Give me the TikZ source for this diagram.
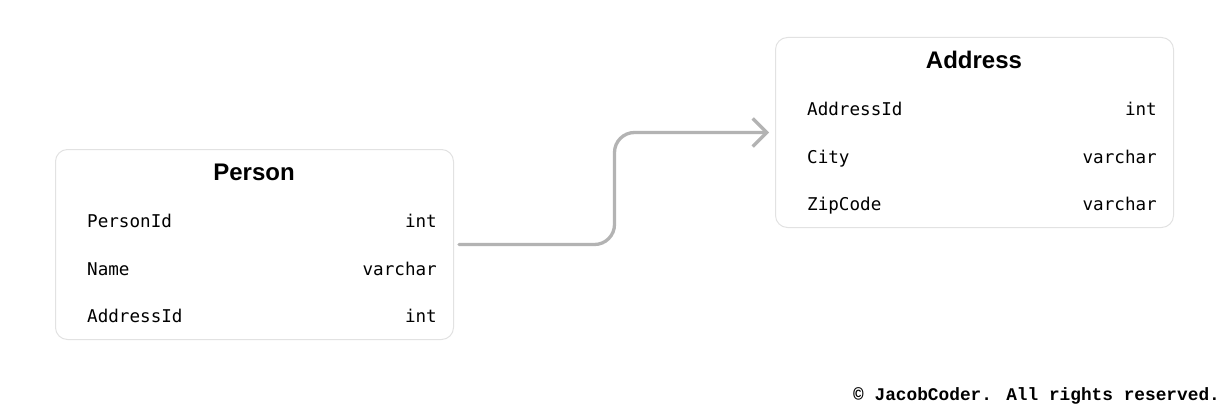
\documentclass[tikz,border=0pt]{standalone}
\usepackage{fontspec}
\usepackage{tikz}
\usetikzlibrary{arrows.meta}
\usetikzlibrary{calc}

\newfontfamily\titlefont{Liberation Sans}
\newfontfamily\fieldfont{DejaVu Sans Mono}
\newfontfamily\notefont{Liberation Mono}
\definecolor{boxline}{HTML}{E2E2E2}
\definecolor{linkline}{HTML}{B3B3B3}

\begin{document}
\begin{tikzpicture}
[
    x = 1pt, y = -1pt,
    table/.style = {draw = boxline, line width = 1pt, rounded corners = 12pt, anchor = north west,
                    minimum width = 398pt, minimum height = 190pt, inner sep = 0pt},
    title/.style = {anchor = base, inner sep = 0pt, font = \titlefont\bfseries\fontsize{24}{28}\selectfont},
    field/.style = {anchor = base west, inner sep = 0pt, font = \fieldfont\fontsize{17.6}{20}\selectfont},
    type/.style = {field, anchor = base east},
    link/.style = {draw = linkline, line width = 3.3pt, line cap = round, line join = round,
                   rounded corners = 20pt, -{Straight Barb[length = 14pt, width = 28pt]},
                   shorten < = 5pt, shorten > = 6pt}]

\useasboundingbox (0,0) rectangle (1228,412);

% Person table
\node[table] (person) at (55,149) {};
\node[title] (persontitle) at (254,180.5) {Person};
\node[field] (personid) at (87,227) {PersonId};
\node[type] (personidtype) at (437,227) {int};
\node[field] (personname) at (87,275) {Name};
\node[type] (personnametype) at (437,275) {varchar};
\node[field] (personaddr) at (87,322.5) {AddressId};
\node[type] (personaddrtype) at (437,322.5) {int};

% Address table
\node[table] (address) at (775,37) {};
\node[title] (addresstitle) at (974,68) {Address};
\node[field] (addressid) at (807,115.5) {AddressId};
\node[type] (addressidtype) at (1157,115.5) {int};
\node[field] (addresscity) at (807,163) {City};
\node[type] (addresscitytype) at (1157,163) {varchar};
\node[field] (addresszip) at (807,210.5) {ZipCode};
\node[type] (addressziptype) at (1157,210.5) {varchar};

% link
\coordinate (bend) at ($(person.east)!0.5!(address.west)$);
\draw[link] (person.east) -| (bend) |- (address.west);

\node[anchor = base west, inner sep = 0pt, font = \notefont\bfseries\fontsize{17.8}{20}\selectfont]
    (note) at (853,400) {© JacobCoder. All rights reserved.};

\end{tikzpicture}
\end{document}
